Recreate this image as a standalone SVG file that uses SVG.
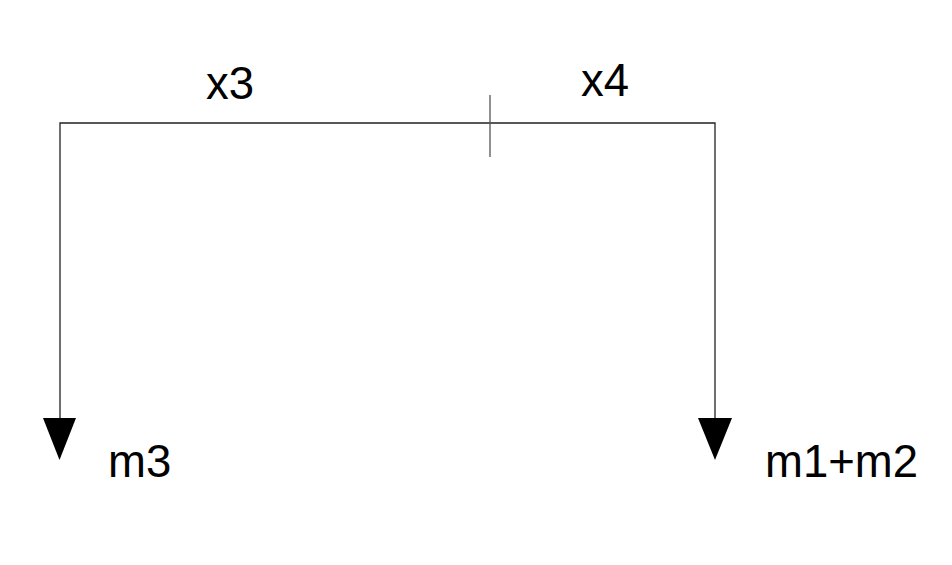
<svg xmlns="http://www.w3.org/2000/svg" width="952" height="565" viewBox="0 0 952 565">
<style>
.ln{stroke:#222;stroke-width:1.3;fill:none}
.tk{stroke:#555;stroke-width:1.3}
.ah{fill:#000}
text{font-family:"Liberation Sans",Arial,sans-serif;font-size:45.5px;fill:#000}
</style>
<rect width="952" height="565" fill="#fff"/>
<g id="connectors">
<polyline class="ln" points="60,420 60,123 715,123 715,420"/>
<line class="tk" x1="490" y1="95" x2="490" y2="157"/>
<polygon class="ah" points="43,418 76,418 59.5,460"/>
<polygon class="ah" points="698,418 732,418 715,460"/>
</g>
<g id="label-x3"><text x="206" y="99">x3</text></g>
<g id="label-x4"><text x="581" y="96">x4</text></g>
<g id="node-m3"><text x="108" y="477">m3</text></g>
<g id="node-m1m2"><text x="765" y="477">m1+m2</text></g>
</svg>
